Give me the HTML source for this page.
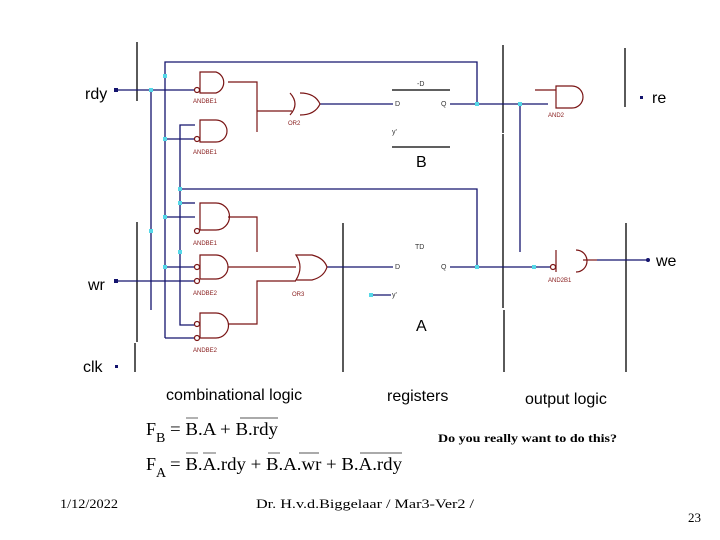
<!DOCTYPE html>
<html><head><meta charset="utf-8"><style>
html,body{margin:0;padding:0;background:#fff;width:720px;height:540px;overflow:hidden}
svg{display:block}
.s{font-family:"Liberation Sans",sans-serif}
.r{font-family:"Liberation Serif",serif}
.g{font-family:"Liberation Sans",sans-serif;font-size:6px;fill:#8a2020}
</style></head><body>
<svg width="720" height="540" viewBox="0 0 720 540" xmlns="http://www.w3.org/2000/svg">
<g stroke="#000" stroke-width="1.3" fill="none">
<line x1="137" y1="42" x2="137" y2="101"/>
<line x1="137" y1="222" x2="137" y2="342"/>
<line x1="135" y1="343" x2="135" y2="372"/>
<line x1="343" y1="223" x2="343" y2="372"/>
<line x1="503" y1="45" x2="503" y2="133"/>
<line x1="503" y1="134" x2="503" y2="308"/>
<line x1="504" y1="310" x2="504" y2="372"/>
<line x1="625" y1="48" x2="625" y2="107"/>
<line x1="626" y1="223" x2="626" y2="372"/>
<line x1="392" y1="90" x2="450" y2="90"/>
<line x1="392" y1="147" x2="450" y2="147"/>
</g>
<g stroke="#14146e" stroke-width="1.3" fill="none">
<line x1="116" y1="90" x2="195" y2="90"/>
<line x1="116" y1="281" x2="195" y2="281"/>
<polyline points="165,338 165,62 477,62 477,104"/>
<line x1="151" y1="90" x2="151" y2="310"/>
<polyline points="195,125 180,125 180,325 195,325"/>
<polyline points="180,189 477,189 477,267"/>
<line x1="165" y1="139" x2="195" y2="139"/>
<line x1="180" y1="203" x2="195" y2="203"/>
<line x1="165" y1="217" x2="195" y2="217"/>
<line x1="165" y1="267" x2="195" y2="267"/>
<line x1="165" y1="338" x2="195" y2="338"/>
<line x1="327" y1="267" x2="393" y2="267"/>
<line x1="320" y1="104" x2="393" y2="104"/>
<line x1="450" y1="104" x2="548" y2="104"/>
<line x1="450" y1="267" x2="550" y2="267"/>
<line x1="520" y1="104" x2="520" y2="252"/>
<line x1="597" y1="260" x2="648" y2="260"/>
<line x1="371" y1="295" x2="391" y2="295"/>
</g>
<g stroke="#7a1515" stroke-width="1.2" fill="none">
<path d="M200,72 H216 A11,11 0 0 1 216,93 H200 Z"/>
<path d="M200,120 H216 A11,11 0 0 1 216,142 H200 Z"/>
<path d="M200,203 H216 A13,13 0 0 1 216,230 H200 Z"/>
<path d="M200,255 H216 A12,12 0 0 1 216,279 H200 Z"/>
<path d="M200,313 H216 A12,12 0 0 1 216,338 H200 Z"/>
<circle cx="197" cy="90" r="2.5"/>
<circle cx="197" cy="139" r="2.5"/>
<circle cx="197" cy="231" r="2.5"/>
<circle cx="197" cy="267" r="2.5"/>
<circle cx="197" cy="281" r="2.5"/>
<circle cx="197" cy="324" r="2.5"/>
<circle cx="197" cy="338" r="2.5"/>
<polyline points="228,82 257,82 257,132"/>
<polyline points="228,217 257,217 257,252"/>
<line x1="228" y1="267" x2="296" y2="267"/>
<polyline points="228,324 257,324 257,281 296,281"/>
<polyline points="257,111 292,111"/>
<path d="M290,93 Q300,104 290,115 M300,93 Q315,93 320,104 Q315,115 300,115"/>
<path d="M296,255 H312 Q324,258 327,267 Q324,277 312,280 H296 Q304,267 296,255 Z"/>
<line x1="535" y1="90" x2="556" y2="90"/>
<path d="M556,86 H572 A11,11 0 0 1 572,108 H556 Z"/>
<path d="M556,250 V272 M576,250 A11,11 0 0 1 576,272"/>
<circle cx="553" cy="267" r="2.5"/>
<line x1="583" y1="260" x2="597" y2="260"/>
</g>
<g fill="#55d8e8">
<rect x="163" y="74" width="4" height="4"/><rect x="149" y="88" width="4" height="4"/>
<rect x="163" y="137" width="4" height="4"/><rect x="178" y="187" width="4" height="4"/>
<rect x="178" y="201" width="4" height="4"/><rect x="163" y="215" width="4" height="4"/>
<rect x="178" y="250" width="4" height="4"/><rect x="163" y="265" width="4" height="4"/>
<rect x="149" y="229" width="4" height="4"/>
<rect x="475" y="102" width="4" height="4"/><rect x="518" y="102" width="4" height="4"/>
<rect x="475" y="265" width="4" height="4"/><rect x="532" y="265" width="4" height="4"/>
<rect x="369" y="293" width="4" height="4"/>
</g>
<g fill="#14146e">
<rect x="114" y="88" width="4" height="4"/><rect x="114" y="279" width="4" height="4"/>
<rect x="115" y="365" width="3" height="3"/><rect x="640" y="96" width="3" height="3"/>
<circle cx="648" cy="260" r="2"/>
</g>
<g class="g">
<text x="193" y="103">ANDBE1</text><text x="193" y="154">ANDBE1</text>
<text x="288" y="125">OR2</text><text x="193" y="245">ANDBE1</text>
<text x="193" y="295">ANDBE2</text><text x="292" y="296">OR3</text>
<text x="193" y="352">ANDBE2</text><text x="548" y="117">AND2</text>
<text x="548" y="282">AND2B1</text>
</g>
<g class="s" font-size="7" fill="#333">
<text x="417" y="86">-D</text><text x="395" y="106">D</text><text x="441" y="106">Q</text>
<text x="392" y="134">y'</text>
<text x="415" y="249">TD</text><text x="395" y="269">D</text><text x="441" y="269">Q</text>
<text x="392" y="297">y'</text>
</g>
<g class="s" font-size="16" fill="#000">
<text x="85" y="99">rdy</text><text x="88" y="290">wr</text><text x="83" y="372">clk</text>
<text x="652" y="103">re</text><text x="656" y="266">we</text>
<text x="416" y="167">B</text><text x="416" y="331">A</text>
<text x="166" y="400">combinational logic</text>
<text x="387" y="401">registers</text>
<text x="525" y="404">output logic</text>
</g>
<g class="r" font-size="18" fill="#000">
<text x="146" y="435">F<tspan font-size="14" dy="7">B</tspan></text>
<text x="170" y="435" textLength="108" lengthAdjust="spacingAndGlyphs">= B.A + B.rdy</text>
<text x="146" y="470">F<tspan font-size="14" dy="7">A</tspan></text>
<text x="170" y="470" textLength="232" lengthAdjust="spacingAndGlyphs">= B.A.rdy + B.A.wr + B.A.rdy</text>
</g>
<g stroke="#555" stroke-width="0.9">
<line x1="186" y1="418" x2="198" y2="418"/><line x1="240" y1="418" x2="278" y2="418"/>
<line x1="186" y1="453" x2="198" y2="453"/><line x1="203" y1="453" x2="216" y2="453"/>
<line x1="268" y1="453" x2="280" y2="453"/><line x1="299" y1="453" x2="319" y2="453"/>
<line x1="360" y1="453" x2="402" y2="453"/>
</g>
<text x="438" y="442" class="r" font-size="12" font-weight="bold" textLength="179" lengthAdjust="spacingAndGlyphs">Do you really want to do this?</text>
<g class="r" font-size="13" fill="#000">
<text x="60" y="508" textLength="58" lengthAdjust="spacingAndGlyphs">1/12/2022</text>
<text x="256" y="508" textLength="218" lengthAdjust="spacingAndGlyphs">Dr. H.v.d.Biggelaar / Mar3-Ver2 /</text>
<text x="688" y="522">23</text>
</g>
</svg>
</body></html>
